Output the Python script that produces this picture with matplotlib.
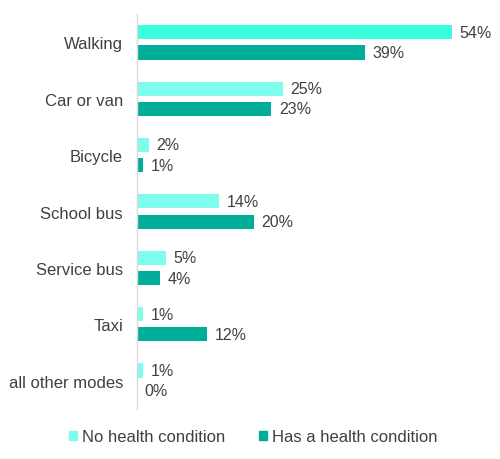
import matplotlib
matplotlib.use("Agg")
import matplotlib.pyplot as plt
from matplotlib.patches import Patch
import numpy as np

categories = ["Walking", "Car or van", "Bicycle", "School bus", "Service bus", "Taxi", "all other modes"]
no_condition = [54, 25, 2, 14, 5, 1, 1]
has_condition = [39, 23, 1, 20, 4, 12, 0]
series_names = ["No health condition", "Has a health condition"]

light = "#7DFDEB"
light_first = "#3CFFE0"
dark = "#00AD99"
text_col = "#404040"

plt.rcParams['font.family'] = ['Liberation Sans', 'DejaVu Sans']

fig = plt.figure(figsize=(5.0, 4.6), dpi=100)
ax = fig.add_axes([0.274, 0.109, 0.70, 0.858])

y = np.arange(len(categories))
h = 0.25
off = 0.18
light_cols = [light_first] + [light] * (len(categories) - 1)
ax.barh(y - off, no_condition, height=h, color=light_cols)
ax.barh(y + off, has_condition, height=h, color=dark)

for yi, v in zip(y, no_condition):
    ax.text(v + 1.3, yi - off, f"{v}%", va="center", ha="left", fontsize=11.5, color=text_col)
for yi, v in zip(y, has_condition):
    ax.text(v + 1.3, yi + off, f"{v}%", va="center", ha="left", fontsize=11.5, color=text_col)

ax.set_xlim(0, 60)
ax.set_ylim(len(categories) - 0.5, -0.5)
ax.set_yticks(y)
ax.set_yticklabels(categories, fontsize=12, color=text_col)
ax.tick_params(axis="y", length=0, pad=10)
ax.set_xticks([])
for s in ["top", "right", "bottom"]:
    ax.spines[s].set_visible(False)
ax.spines["left"].set_color("#D9D9D9")
ax.spines["left"].set_linewidth(1.0)

handles = [Patch(color=light, label=series_names[0]), Patch(color=dark, label=series_names[1])]
fig.legend(handles=handles, loc="center", bbox_to_anchor=(0.506, 1 - 438 / 460), ncol=2,
           frameon=False, fontsize=12, handlelength=0.5, handleheight=0.5,
           handletextpad=0.3, columnspacing=2.0, labelcolor=text_col)

fig.savefig("out.png", dpi=100)
